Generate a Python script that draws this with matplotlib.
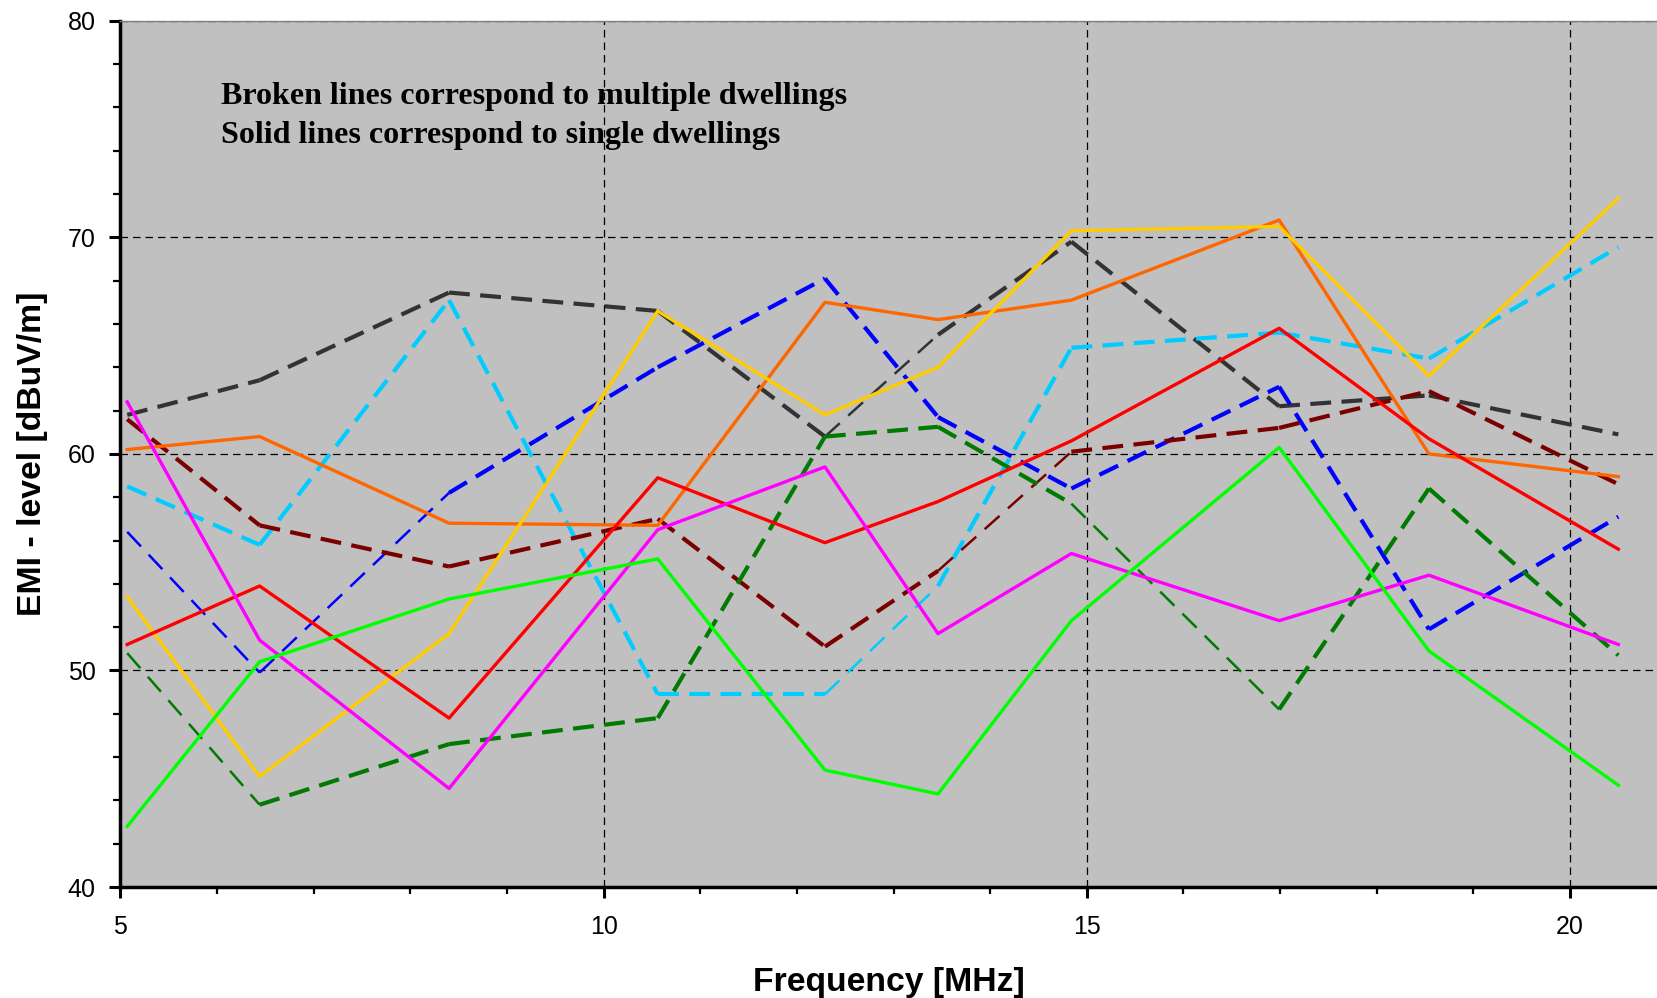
import numpy as np
import matplotlib.pyplot as plt
from matplotlib.ticker import MultipleLocator

# frequency points [MHz]
freq = [5.07, 6.44, 8.40, 10.56, 12.29, 13.46, 14.84, 16.99, 18.54, 20.50]

# single dwellings (solid lines)
orange = [60.2, 60.8, 56.8, 56.7, 67.0, 66.2, 67.1, 70.8, 60.0, 58.95]
gold = [53.4, 45.1, 51.7, 66.6, 61.8, 64.0, 70.3, 70.5, 63.6, 71.8]
red = [51.2, 53.9, 47.8, 58.9, 55.9, 57.8, 60.6, 65.8, 60.7, 55.6]
magenta = [62.4, 51.4, 44.55, 56.5, 59.4, 51.7, 55.4, 52.3, 54.4, 51.2]
lime = [42.8, 50.4, 53.3, 55.15, 45.4, 44.3, 52.3, 60.3, 50.9, 44.7]

# multiple dwellings (broken lines)
darkgray = [61.8, 63.4, 67.45, 66.6, 60.8, 65.5, 69.8, 62.2, 62.7, 60.9]
blue = [56.4, 49.9, 58.2, 64.0, 68.1, 61.7, 58.4, 63.1, 51.9, 57.1]
cyan = [58.5, 55.8, 67.1, 48.9, 48.9, 53.9, 64.9, 65.6, 64.4, 69.55]
maroon = [61.6, 56.7, 54.8, 57.0, 51.1, 54.6, 60.1, 61.2, 62.9, 58.6]
darkgreen = [50.8, 43.8, 46.6, 47.8, 60.8, 61.25, 57.7, 48.2, 58.4, 50.7]

fig = plt.figure(figsize=(16.57, 9.98), dpi=100)
ax = fig.add_axes([0.0727, 0.1112, 0.9273, 0.868])
ax.set_facecolor('#C0C0C0')

ax.grid(True, which='major', color='black', linestyle=(0, (6, 4)), linewidth=0.9)
ax.set_axisbelow(True)

solid = [(orange, '#FF6600'), (gold, '#FFCC00'), (red, '#FF0000'),
         (magenta, '#FF00FF'), (lime, '#00FF00')]
# (values, colour, segments drawn thinner as in the original)
broken = [(darkgray, '#333333', [4]), (blue, '#0000FF', [0, 1]),
          (cyan, '#00CCFF', [4]), (maroon, '#7A0000', [5]),
          (darkgreen, '#007A00', [0, 6])]

for vals, c, thin in broken:
    for i in range(len(freq) - 1):
        lw = 1.8 if i in thin else 3.0
        ax.plot(freq[i:i + 2], vals[i:i + 2], color=c, lw=lw,
                dashes=(5, 2.5) if lw > 2 else (8, 4.5), solid_capstyle='butt')
for vals, c in solid:
    ax.plot(freq, vals, color=c, lw=2.4)

ax.set_xlim(5, 20.9)
ax.set_ylim(40, 80)
ax.xaxis.set_major_locator(MultipleLocator(5))
ax.xaxis.set_minor_locator(MultipleLocator(1))
ax.yaxis.set_major_locator(MultipleLocator(10))
ax.yaxis.set_minor_locator(MultipleLocator(2))

ax.tick_params(which='major', direction='out', length=8, width=2.2,
               labelsize=18, pad=10)
ax.tick_params(axis='x', which='major', pad=12)
ax.tick_params(which='minor', direction='out', length=5, width=1.6)
for lab in ax.get_xticklabels() + ax.get_yticklabels():
    lab.set_family('Liberation Sans')

ax.spines['left'].set_linewidth(2.5)
ax.spines['bottom'].set_linewidth(2.5)
ax.spines['top'].set_color('#808080')
ax.spines['top'].set_linewidth(1)
ax.spines['right'].set_visible(False)

ax.set_xlabel('Frequency [MHz]', fontsize=24.3, fontweight='bold',
              family='Liberation Sans', labelpad=20)
ax.set_ylabel('EMI - level [dBuV/m]', fontsize=24.3, fontweight='bold',
              family='Liberation Sans', labelpad=14)

note_font = dict(family='Liberation Serif', fontweight='bold', fontsize=23,
                 va='center', ha='left')
ax.text(6.04, 76.48, 'Broken lines correspond to multiple dwellings', **note_font)
ax.text(6.04, 74.72, 'Solid lines correspond to single dwellings', **note_font)

fig.savefig('out.png', dpi=100)
